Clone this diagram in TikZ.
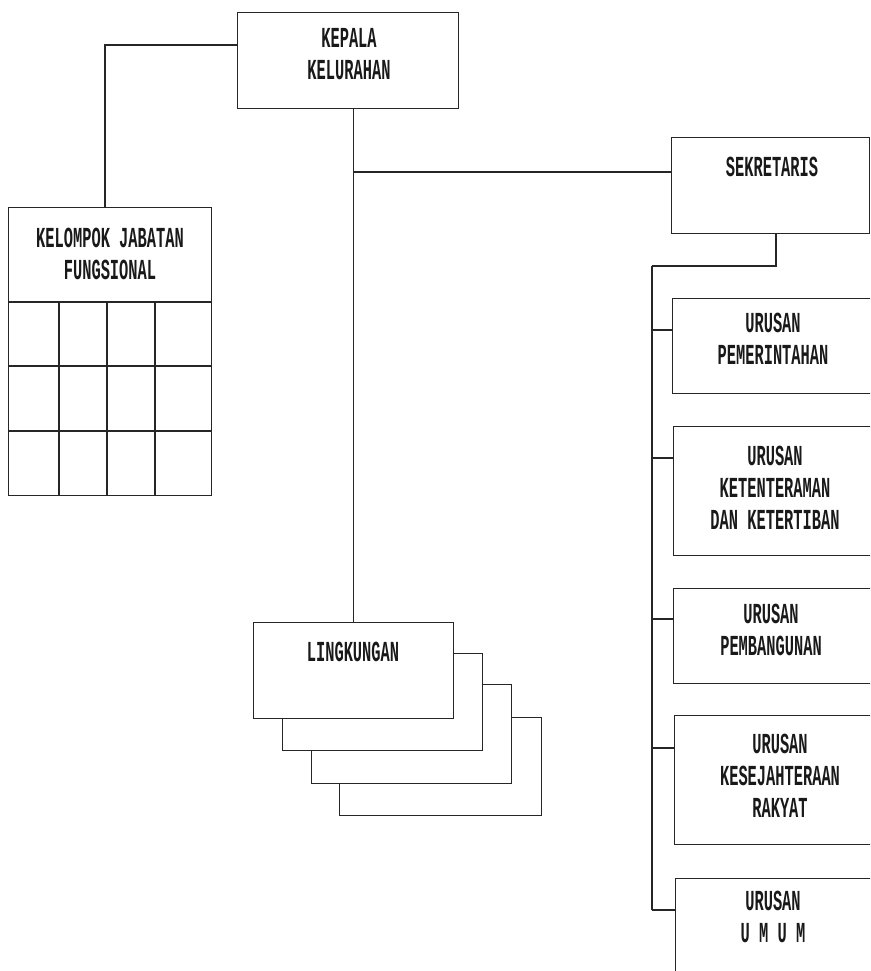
\documentclass[tikz,border=0pt]{standalone}
\usepackage{fontspec}
\newfontfamily\orgfont{Liberation Mono}[FakeStretch=0.53,BoldFeatures={FakeStretch=0.53}]
\begin{document}
\begin{tikzpicture}[x=1pt,y=-1pt,
  line width=1.3pt, draw=black!85,
  box/.style={draw, fill=white, rectangle, inner sep=0pt, anchor=north west},
  lbl/.style={font=\orgfont\bfseries\fontsize{29}{32}\selectfont, align=center, text=black!90, inner sep=0pt, anchor=center},
  conn/.style={draw, line width=1.3pt}]
\clip (0,0) rectangle (870,971);
\fill[white] (0,0) rectangle (870,971);
% Kepala
\node[box, minimum width=221pt, minimum height=96pt] (kepala) at (237,12) {};
\node[lbl] (tkepala) at (349,54) {KEPALA\\KELURAHAN};
% Kelompok jabatan fungsional
\node[box, minimum width=203pt, minimum height=288pt] (kjf) at (8,207) {};
\node[lbl] (tkjf) at (110,254) {KELOMPOK JABATAN\\FUNGSIONAL};
\draw (8,302) -- (211,302);
\draw (8,366) -- (211,366);
\draw (8,431) -- (211,431);
\draw (59,302) -- (59,495);
\draw (107,302) -- (107,495);
\draw (155,302) -- (155,495);
% Sekretaris
\node[box, minimum width=198pt, minimum height=96pt] (sek) at (671,137) {};
\node[lbl] (tsek) at (772,167) {SEKRETARIS};
% Urusan boxes
\node[box, minimum width=200pt, minimum height=95pt] (u1) at (672,298) {};
\node[lbl] (tu1) at (773,339) {URUSAN\\PEMERINTAHAN};
\node[box, minimum width=200pt, minimum height=129pt] (u2) at (673,426) {};
\node[lbl] (tu2) at (775,488) {URUSAN\\KETENTERAMAN\\DAN KETERTIBAN};
\node[box, minimum width=200pt, minimum height=95pt] (u3) at (673,588) {};
\node[lbl] (tu3) at (771,630) {URUSAN\\PEMBANGUNAN};
\node[box, minimum width=200pt, minimum height=129pt] (u4) at (674,715) {};
\node[lbl] (tu4) at (780,776) {URUSAN\\KESEJAHTERAAN\\RAKYAT};
\node[box, minimum width=200pt, minimum height=110pt] (u5) at (675,878) {};
\node[lbl] (tu5) at (773,917) {URUSAN\\U M U M};
% Lingkungan stack
\node[box, minimum width=202pt, minimum height=98pt] (l4) at (339,717) {};
\node[box, minimum width=200pt, minimum height=99pt] (l3) at (311,684) {};
\node[box, minimum width=200pt, minimum height=97pt] (l2) at (282,653) {};
\node[box, minimum width=200pt, minimum height=96pt] (l1) at (253,622) {};
\node[lbl] (tl1) at (353,652) {LINGKUNGAN};
% connectors
\coordinate (kl) at (237,45);
\coordinate (kjtop) at (105,207);
\draw[conn] (kl) -| (kjtop);
\draw[conn] (kepala.south -| l1.north) -- (l1.north);
\coordinate (b1) at (353,172);
\draw[conn] (b1) -- (sek.west |- b1);
\coordinate (sb) at (776,233);
\coordinate (bus) at (652,266);
\draw[conn] (sb) |- (bus);
\coordinate (r1) at (652,330);
\coordinate (r2) at (652,458);
\coordinate (r3) at (652,619);
\coordinate (r4) at (652,748);
\coordinate (r5) at (652,910);
\draw[conn] (bus) -- (r5);
\draw[conn] (r1) -- (u1.west |- r1);
\draw[conn] (r2) -- (u2.west |- r2);
\draw[conn] (r3) -- (u3.west |- r3);
\draw[conn] (r4) -- (u4.west |- r4);
\draw[conn] (r5) -- (u5.west |- r5);
\end{tikzpicture}
\end{document}
